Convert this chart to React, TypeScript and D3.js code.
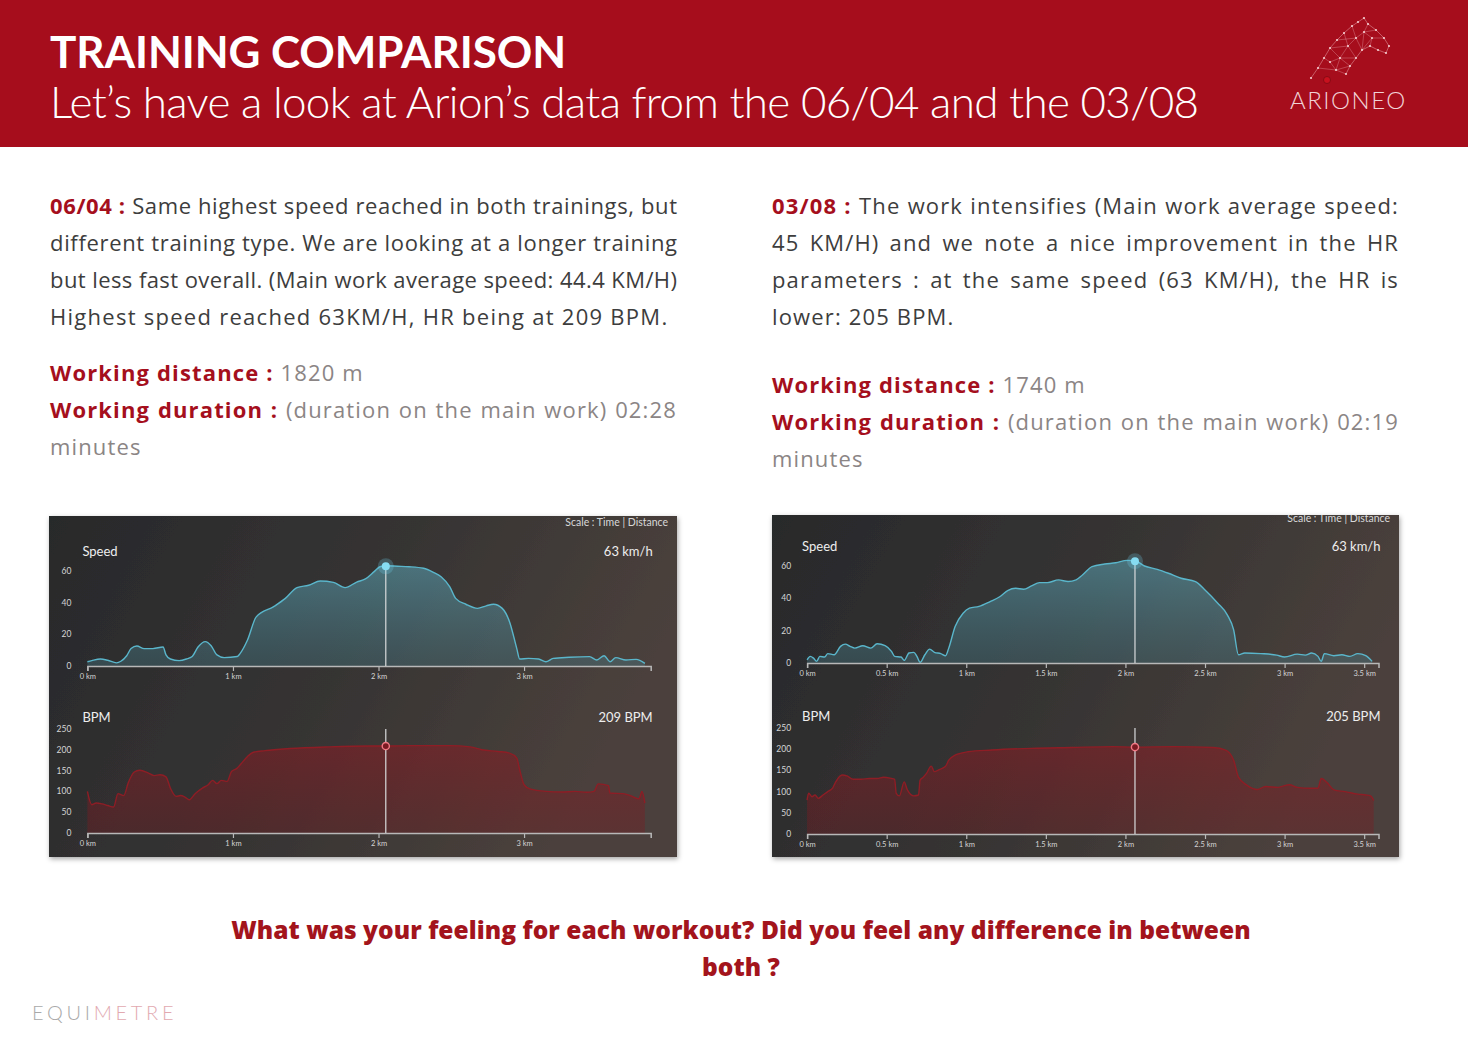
import React, { useEffect, useRef } from "react";
import * as d3 from "d3";

const W = 1470;
const H = 1040;

// ---- Data (distance km, value) ----
const speed0604: [number, number][] = [
  [0, 2.7], [0.03, 3.4], [0.09, 4.4], [0.14, 3.6], [0.2, 2], [0.23, 3], [0.27, 6.5], [0.3, 11], [0.34, 12.6],
  [0.39, 11], [0.45, 11], [0.52, 12], [0.54, 7], [0.57, 4.4], [0.63, 3.4], [0.68, 4.4], [0.72, 6], [0.76, 12],
  [0.81, 15.4], [0.85, 12.8], [0.89, 7], [0.94, 5.3], [1.03, 6], [1.05, 8], [1.1, 16.4], [1.16, 31], [1.28, 37.5],
  [1.36, 42.7], [1.44, 49.5], [1.52, 51], [1.6, 53.7], [1.69, 52.8], [1.77, 49.5], [1.85, 53], [1.91, 55],
  [1.97, 59.6], [2.01, 62.7], [2.05, 63.3], [2.13, 63], [2.21, 62.7], [2.31, 61.7], [2.38, 59], [2.43, 56.4],
  [2.49, 50], [2.53, 42.7], [2.6, 39], [2.68, 36.4], [2.74, 38], [2.79, 39], [2.85, 36.4], [2.9, 28], [2.95, 11],
  [2.97, 4.4], [3.03, 4.8], [3.1, 4.4], [3.15, 2.7], [3.2, 4.8], [3.31, 5.5], [3.45, 5.9], [3.5, 3.8],
  [3.55, 6.5], [3.59, 2.7], [3.63, 5.3], [3.7, 3.8], [3.77, 4.2], [3.83, 1.7],
];

const bpm0604: [number, number][] = [
  [0, 100], [0.03, 68], [0.06, 72], [0.1, 70], [0.14, 66], [0.18, 62.5], [0.21, 94.6], [0.25, 90], [0.28, 120],
  [0.32, 146], [0.36, 151], [0.42, 144], [0.46, 138], [0.5, 140], [0.54, 135], [0.57, 108], [0.61, 88],
  [0.64, 90], [0.67, 86.5], [0.7, 80], [0.74, 94.6], [0.79, 108], [0.83, 116], [0.86, 126.6], [0.89, 118.6],
  [0.92, 126.6], [0.96, 124], [0.99, 148], [1.03, 156], [1.05, 164], [1.1, 184], [1.14, 194], [1.22, 198],
  [1.39, 203], [1.66, 207], [1.94, 209], [2.05, 209], [2.21, 210], [2.49, 210], [2.63, 207], [2.71, 200],
  [2.82, 196], [2.9, 192], [2.95, 180], [2.97, 152], [3.0, 116], [3.04, 106], [3.15, 100], [3.26, 98.6],
  [3.35, 100], [3.43, 97.8], [3.48, 100], [3.51, 118], [3.58, 114], [3.59, 96], [3.68, 94.6], [3.73, 90],
  [3.79, 82], [3.81, 100], [3.83, 72],
];

const speed0308: [number, number][] = [
  [0, 2], [0.02, 4.1], [0.04, 3], [0.06, 1], [0.08, 4.1], [0.11, 3.7], [0.13, 5.8], [0.17, 5.1], [0.21, 10.3],
  [0.24, 11.7], [0.27, 10.3], [0.3, 9.2], [0.35, 10.7], [0.4, 9.2], [0.44, 11.9], [0.49, 10.7], [0.53, 7.2],
  [0.55, 4.1], [0.59, 3.7], [0.61, 1.6], [0.64, 6.2], [0.67, 6.6], [0.69, 4.1], [0.71, 0.4], [0.74, 5.1],
  [0.77, 8.6], [0.8, 6.6], [0.84, 5.8], [0.87, 4.5], [0.89, 9.2], [0.93, 22.6], [0.98, 30.8], [1.02, 33.9],
  [1.08, 35], [1.15, 38], [1.21, 41], [1.26, 44.8], [1.31, 46.2], [1.36, 45.6], [1.41, 47.7], [1.46, 49.7],
  [1.51, 49.7], [1.58, 51.4], [1.64, 50.4], [1.69, 51.4], [1.73, 54.4], [1.79, 59.6], [1.87, 61.2], [1.94, 62],
  [2.01, 63.5], [2.06, 63.3], [2.12, 60], [2.2, 57.9], [2.27, 55.5], [2.35, 52.4], [2.44, 50.3], [2.5, 45.2],
  [2.58, 37], [2.64, 29.8], [2.68, 20.5], [2.71, 5.1], [2.75, 6.2], [2.85, 5.8], [2.95, 4.9], [3.0, 3.7],
  [3.08, 5.5], [3.13, 4.9], [3.17, 6.2], [3.21, 4.1], [3.23, 1], [3.25, 5.8], [3.31, 4.5], [3.36, 5.1],
  [3.41, 4.1], [3.46, 5.8], [3.51, 4.5], [3.55, 1],
];

const bpm0308: [number, number][] = [
  [0, 80], [0.01, 96], [0.03, 88], [0.05, 92], [0.07, 84], [0.1, 92], [0.13, 100], [0.16, 108], [0.18, 123],
  [0.22, 139], [0.25, 137], [0.29, 129], [0.34, 129], [0.39, 131], [0.44, 131], [0.48, 134], [0.53, 131],
  [0.55, 129], [0.56, 96], [0.58, 90], [0.61, 123], [0.63, 104], [0.67, 90], [0.7, 92], [0.71, 127],
  [0.73, 134], [0.75, 143], [0.78, 160], [0.8, 147], [0.83, 152], [0.87, 160], [0.89, 174], [0.93, 186],
  [1.01, 194], [1.16, 198], [1.41, 202], [1.66, 204], [1.92, 206], [2.06, 205], [2.3, 206], [2.55, 204],
  [2.63, 198], [2.68, 174], [2.71, 134], [2.76, 116], [2.83, 105], [2.88, 112], [2.96, 110], [2.99, 113],
  [3.03, 116], [3.08, 110], [3.16, 108], [3.21, 108], [3.23, 131], [3.27, 120], [3.31, 104], [3.38, 100],
  [3.46, 94], [3.51, 92], [3.54, 90], [3.56, 79],
];

const speedTicks = [0, 20, 40, 60];
const bpmTicks = [0, 50, 100, 150, 200, 250];
const kmTicks0604 = [0, 1, 2, 3];
const kmTicks0308 = [0, 0.5, 1, 1.5, 2, 2.5, 3, 3.5];

const peak0604 = { km: 2.05, speed: 63, bpm: 209 };
const peak0308 = { km: 2.06, speed: 63, bpm: 205 };

const titleText = "TRAINING COMPARISON";
const subtitleText = "Let\u2019s have a look at Arion\u2019s data from the 06/04 and the 03/08";

const para0604 = [
  "Same highest speed reached in both trainings, but",
  "different training type. We are looking at a longer training",
  "but less fast overall. (Main work average speed: 44.4 KM/H)",
  "Highest speed reached 63KM/H, HR being at 209 BPM.",
];
const para0308 = [
  "The work intensifies (Main work average speed:",
  "45 KM/H) and we note a nice improvement in the HR",
  "parameters : at the same speed (63 KM/H), the HR is",
  "lower: 205 BPM.",
];
const questionLines = [
  "What was your feeling for each workout? Did you feel any difference in between",
  "both ?",
];

const RED = "#a50f1d";
const TXT = "#3d3d3d";
const GRAY = "#8b8585";
const BODY_FONT = "'Open Sans', Lato, sans-serif";
const HEAD_FONT = "Lato, 'Open Sans', sans-serif";

type Part = { text: string; color: string; weight: number };

function richLine(
  g: d3.Selection<SVGGElement, unknown, null, undefined>,
  x: number,
  y: number,
  parts: Part[],
  size: number,
  justifyTo?: number,
  mode: "words" | "letters" = "words",
  ls = 1.15
) {
  const t = g
    .append("text")
    .attr("x", x)
    .attr("y", y)
    .style("font-family", BODY_FONT)
    .style("font-size", size + "px")
    .style("letter-spacing", (mode === "letters" ? 0 : ls) + "px")
    .style("white-space", "pre");
  parts.forEach((p) =>
    t.append("tspan").text(p.text).attr("fill", p.color).style("font-weight", p.weight)
  );
  if (justifyTo !== undefined) {
    const w = (t.node() as SVGTextElement).getComputedTextLength();
    const full = parts.map((p) => p.text).join("");
    if (mode === "letters") {
      t.style("letter-spacing", (justifyTo - x - w) / (full.length - 1) + "px");
    } else {
      const spaces = (full.match(/ /g) || []).length;
      const extra = (justifyTo - x - w) / spaces;
      if (spaces > 0 && extra > 0) t.style("word-spacing", extra + "px");
    }
  }
}

type ChartCfg = {
  id: string;
  panel: { x: number; y: number; w: number; h: number };
  x0: number;
  x1: number;
  kmMax: number;
  speedY0: number;
  speedY60: number;
  bpmY0: number;
  bpmY250: number;
  scaleY: number;
};

const cfg0604: ChartCfg = {
  id: "a",
  panel: { x: 49, y: 516, w: 628, h: 341 },
  x0: 87.4,
  x1: 650.7,
  kmMax: 3.87,
  speedY0: 666,
  speedY60: 571,
  bpmY0: 833,
  bpmY250: 729,
  scaleY: 526,
};
const cfg0308: ChartCfg = {
  id: "b",
  panel: { x: 772, y: 515, w: 627, h: 342 },
  x0: 807.1,
  x1: 1378.5,
  kmMax: 3.59,
  speedY0: 663,
  speedY60: 566,
  bpmY0: 834,
  bpmY250: 728,
  scaleY: 522,
};

function drawChart(
  svg: d3.Selection<SVGSVGElement, unknown, null, undefined>,
  defs: d3.Selection<SVGDefsElement, unknown, null, undefined>,
  c: ChartCfg,
  speed: [number, number][],
  bpm: [number, number][],
  peak: { km: number; speed: number; bpm: number },
  kmTicks: number[]
) {
  const { panel } = c;
  const bgId = "bg" + c.id;
  const bg = defs.append("linearGradient").attr("id", bgId).attr("x1", 0).attr("x2", 1).attr("y1", 0).attr("y2", 0.3);
  bg.append("stop").attr("offset", 0).attr("stop-color", "#28292b");
  bg.append("stop").attr("offset", 0.55).attr("stop-color", "#363433");
  bg.append("stop").attr("offset", 1).attr("stop-color", "#4b413c");
  defs
    .append("clipPath")
    .attr("id", "clip" + c.id)
    .append("rect")
    .attr("x", panel.x)
    .attr("y", panel.y)
    .attr("width", panel.w)
    .attr("height", panel.h);

  const g = svg.append("g");
  g.append("rect")
    .attr("x", panel.x)
    .attr("y", panel.y)
    .attr("width", panel.w)
    .attr("height", panel.h)
    .attr("fill", `url(#${bgId})`)
    .attr("filter", "url(#shadow)");

  const inner = g.append("g").attr("clip-path", `url(#clip${c.id})`);

  const x = d3.scaleLinear().domain([0, c.kmMax]).range([c.x0, c.x1]);
  const ys = d3.scaleLinear().domain([0, 60]).range([c.speedY0, c.speedY60]);
  const yb = d3.scaleLinear().domain([0, 250]).range([c.bpmY0, c.bpmY250]);

  // scale label
  inner
    .append("text")
    .attr("x", panel.x + panel.w - 9)
    .attr("y", c.scaleY)
    .attr("text-anchor", "end")
    .attr("fill", "#d8d8d8")
    .style("font-family", HEAD_FONT)
    .style("font-size", "10.5px")
    .text("Scale : Time | Distance");

  // gradients for fills
  const sg = defs.append("linearGradient").attr("id", "sf" + c.id).attr("x1", 0).attr("x2", 0).attr("y1", 0).attr("y2", 1);
  sg.append("stop").attr("offset", 0).attr("stop-color", "#5fb0c4").attr("stop-opacity", 0.5);
  sg.append("stop").attr("offset", 1).attr("stop-color", "#4c8c9c").attr("stop-opacity", 0.3);
  const bgr = defs.append("linearGradient").attr("id", "bf" + c.id).attr("x1", 0).attr("x2", 0).attr("y1", 0).attr("y2", 1);
  bgr.append("stop").attr("offset", 0).attr("stop-color", "#8a1c24").attr("stop-opacity", 0.55);
  bgr.append("stop").attr("offset", 1).attr("stop-color", "#7a1a20").attr("stop-opacity", 0.35);

  const curve = d3.curveMonotoneX;

  const drawPanel = (
    data: [number, number][],
    y: d3.ScaleLinear<number, number>,
    ticks: number[],
    fillId: string,
    lineColor: string,
    label: string,
    valueLabel: string,
    peakVal: number,
    labelY: number,
    lineTop: number | null,
    marker: "speed" | "bpm"
  ) => {
    const area = d3
      .area<[number, number]>()
      .x((d) => x(d[0]))
      .y0(y(0))
      .y1((d) => y(d[1]))
      .curve(curve);
    const line = d3
      .line<[number, number]>()
      .x((d) => x(d[0]))
      .y((d) => y(d[1]))
      .curve(curve);
    inner.append("path").attr("d", area(data)!).attr("fill", `url(#${fillId})`);
    inner
      .append("path")
      .attr("d", line(data)!)
      .attr("fill", "none")
      .attr("stroke", lineColor)
      .attr("stroke-width", 1.4);

    // y labels
    inner
      .selectAll(null)
      .data(ticks)
      .join("text")
      .attr("x", c.x0 - 16)
      .attr("y", (d) => y(d))
      .attr("dy", "0.35em")
      .attr("text-anchor", "end")
      .attr("fill", "#d5d5d5")
      .style("font-family", HEAD_FONT)
      .style("font-size", "8.5px")
      .text((d) => String(d));

    // x axis
    const axis = d3
      .axisBottom(x)
      .tickValues(kmTicks)
      .tickSize(5)
      .tickPadding(3)
      .tickFormat((d) => `${d} km`);
    const ag = inner.append("g").attr("transform", `translate(0,${y(0)})`).call(axis);
    ag.select(".domain").attr("stroke", "#b8b8b8").attr("stroke-width", 1.5);
    ag.selectAll(".tick line").attr("stroke", "#b8b8b8").attr("stroke-width", 1.2);
    ag.selectAll(".tick text")
      .attr("fill", "#d5d5d5")
      .style("font-family", HEAD_FONT)
      .style("font-size", "7.5px");

    // labels
    inner
      .append("text")
      .attr("x", c.x0 - 5)
      .attr("y", labelY)
      .attr("fill", "#eeeeee")
      .style("font-family", HEAD_FONT)
      .style("font-size", "13px")
      .text(label);
    inner
      .append("text")
      .attr("x", c.x1 + 2)
      .attr("y", labelY)
      .attr("text-anchor", "end")
      .attr("fill", "#eeeeee")
      .style("font-family", HEAD_FONT)
      .style("font-size", "13px")
      .text(valueLabel);

    // peak marker
    const px = x(peak.km);
    const py = y(peakVal);
    inner
      .append("line")
      .attr("x1", px)
      .attr("x2", px)
      .attr("y1", lineTop ?? py)
      .attr("y2", y(0))
      .attr("stroke", "#d8dadc")
      .attr("stroke-width", 1.2);
    if (marker === "speed") {
      inner.append("circle").attr("cx", px).attr("cy", py).attr("r", 8).attr("fill", "#6fd0ea").attr("opacity", 0.25);
      inner.append("circle").attr("cx", px).attr("cy", py).attr("r", 4).attr("fill", "#86dcf2");
    } else {
      inner
        .append("circle")
        .attr("cx", px)
        .attr("cy", py)
        .attr("r", 3.6)
        .attr("fill", "#7a1a22")
        .attr("stroke", "#f07a86")
        .attr("stroke-width", 1.4);
    }
  };

  drawPanel(
    speed,
    ys,
    speedTicks,
    "sf" + c.id,
    "#5ab6cb",
    "Speed",
    `${peak.speed} km/h`,
    peak.speed,
    c.speedY60 - 15,
    null,
    "speed"
  );
  drawPanel(
    bpm,
    yb,
    bpmTicks,
    "bf" + c.id,
    "#8e1d25",
    "BPM",
    `${peak.bpm} BPM`,
    peak.bpm,
    c.bpmY250 - 7,
    c.bpmY250,
    "bpm"
  );
}

// Horse-head logo mesh nodes (decorative)
const horseNodes: [number, number][] = [
  [1311, 78], [1318, 68], [1324, 58], [1330, 48], [1337, 40], [1344, 33], [1352, 26], [1358, 22], [1364, 18],
  [1368, 24], [1376, 30], [1384, 38], [1389, 46], [1386, 53], [1378, 50], [1370, 46], [1362, 50], [1356, 58],
  [1350, 66], [1346, 74], [1336, 70], [1340, 58], [1348, 46], [1356, 38], [1364, 32], [1372, 38], [1330, 62],
];
const horseOutline = [0, 1, 2, 3, 4, 5, 6, 7, 8, 9, 10, 11, 12, 13, 14, 15, 16, 17, 18, 19];
const horseLinks: [number, number][] = [
  [1, 20], [2, 26], [26, 21], [20, 21], [21, 22], [22, 23], [23, 24], [24, 25], [25, 15], [25, 11], [24, 9],
  [23, 6], [22, 5], [21, 3], [26, 20], [20, 19], [21, 18], [22, 17], [23, 16], [24, 16], [3, 22], [4, 23],
  [16, 25], [10, 24], [18, 20], [17, 21],
];

export default function App() {
  const ref = useRef<SVGSVGElement | null>(null);

  useEffect(() => {
    const svg = d3.select(ref.current!);
    svg.selectAll("*").remove();
    const defs = svg.append("defs");
    const f = defs.append("filter").attr("id", "shadow").attr("x", -0.05).attr("y", -0.05).attr("width", 1.1).attr("height", 1.15);
    f.append("feDropShadow").attr("dx", 1).attr("dy", 2).attr("stdDeviation", 2.5).attr("flood-color", "#000").attr("flood-opacity", 0.35);

    svg.append("rect").attr("width", W).attr("height", H).attr("fill", "#ffffff");

    // Header
    svg.append("rect").attr("x", 0).attr("y", 0).attr("width", 1468).attr("height", 147).attr("fill", "#a60d1c");
    svg
      .append("text")
      .attr("x", 50)
      .attr("y", 68)
      .attr("fill", "#ffffff")
      .style("font-family", HEAD_FONT)
      .style("font-weight", 700)
      .style("font-size", "44px")
      .style("letter-spacing", "-0.1px")
      .text(titleText);
    svg
      .append("text")
      .attr("x", 50)
      .attr("y", 118)
      .attr("fill", "#ffffff")
      .style("font-family", HEAD_FONT)
      .style("font-weight", 300)
      .style("font-size", "44px")
      .style("letter-spacing", "-0.67px")
      .text(subtitleText);

    // logo
    const lg = svg.append("g");
    lg.append("path")
      .attr("d", d3.line()(horseOutline.map((i) => horseNodes[i]))!)
      .attr("fill", "none")
      .attr("stroke", "rgba(255,215,220,0.55)")
      .attr("stroke-width", 0.7);
    horseLinks.forEach(([a, b]) =>
      lg
        .append("line")
        .attr("x1", horseNodes[a][0])
        .attr("y1", horseNodes[a][1])
        .attr("x2", horseNodes[b][0])
        .attr("y2", horseNodes[b][1])
        .attr("stroke", "rgba(255,215,220,0.45)")
        .attr("stroke-width", 0.6)
    );
    lg.selectAll(null)
      .data(horseNodes)
      .join("circle")
      .attr("cx", (d) => d[0])
      .attr("cy", (d) => d[1])
      .attr("r", 1.1)
      .attr("fill", "rgba(255,230,232,0.85)");
    lg.append("circle").attr("cx", 1327).attr("cy", 80).attr("r", 3.5).attr("fill", "#c8101e").attr("stroke", "#7a0a12").attr("stroke-width", 0.8);
    svg
      .append("text")
      .attr("x", 1290)
      .attr("y", 109)
      .attr("fill", "#f1d2d6")
      .style("font-family", HEAD_FONT)
      .style("font-weight", 300)
      .style("font-size", "24px")
      .style("letter-spacing", "1.5px")
      .text("ARIONEO");

    // Paragraphs
    const tg = svg.append("g") as d3.Selection<SVGGElement, unknown, null, undefined>;
    const SIZE = 22;
    const lineYs = [214, 251, 288, 325];
    para0604.forEach((t, i) => {
      const parts: Part[] =
        i === 0
          ? [
              { text: "06/04 : ", color: RED, weight: 700 },
              { text: t, color: TXT, weight: 400 },
            ]
          : [{ text: t, color: TXT, weight: 400 }];
      if (i < 3) richLine(tg, 50, lineYs[i], parts, SIZE, 677, "letters");
      else richLine(tg, 50, lineYs[i], parts, SIZE, undefined, "words", 1.27);
    });
    para0308.forEach((t, i) => {
      const parts: Part[] =
        i === 0
          ? [
              { text: "03/08 : ", color: RED, weight: 700 },
              { text: t, color: TXT, weight: 400 },
            ]
          : [{ text: t, color: TXT, weight: 400 }];
      richLine(tg, 772, lineYs[i], parts, SIZE, i < 3 ? 1399 : undefined);
    });

    const workLines = (x: number, ys: number[], dist: string, dur: string, right: number) => {
      richLine(tg, x, ys[0], [
        { text: "Working distance : ", color: RED, weight: 700 },
        { text: dist, color: GRAY, weight: 400 },
      ], SIZE);
      richLine(tg, x, ys[1], [
        { text: "Working duration : ", color: RED, weight: 700 },
        { text: "(duration on the main work) " + dur, color: GRAY, weight: 400 },
      ], SIZE, right);
      richLine(tg, x, ys[2], [{ text: "minutes", color: GRAY, weight: 400 }], SIZE);
    };
    workLines(50, [381, 418, 455], "1820 m", "02:28", 677);
    workLines(772, [393, 430, 467], "1740 m", "02:19", 1399);

    // Charts
    drawChart(svg, defs, cfg0604, speed0604, bpm0604, peak0604, kmTicks0604);
    drawChart(svg, defs, cfg0308, speed0308, bpm0308, peak0308, kmTicks0308);

    // Question
    svg
      .selectAll(null)
      .data(questionLines)
      .join("text")
      .attr("x", 741)
      .attr("y", (_d, i) => 939 + i * 37)
      .attr("text-anchor", "middle")
      .attr("fill", "#a3141c")
      .style("font-family", BODY_FONT)
      .style("font-weight", 800)
      .style("font-size", "24.5px")
      .style("letter-spacing", "0.05px")
      .text((d) => d);

    // Footer logo
    const ft = svg
      .append("text")
      .attr("x", 32)
      .attr("y", 1020)
      .style("font-family", HEAD_FONT)
      .style("font-weight", 300)
      .style("font-size", "20px")
      .style("letter-spacing", "3.7px");
    ft.append("tspan").text("EQUI").attr("fill", "#a9a9a9");
    ft.append("tspan").text("METRE").attr("fill", "#e2a9b0");
  }, []);

  return (
    <div style={{ position: "absolute", left: 0, top: 0, width: W, height: H }}>
      <svg ref={ref} width={W} height={H} viewBox={`0 0 ${W} ${H}`} />
    </div>
  );
}
